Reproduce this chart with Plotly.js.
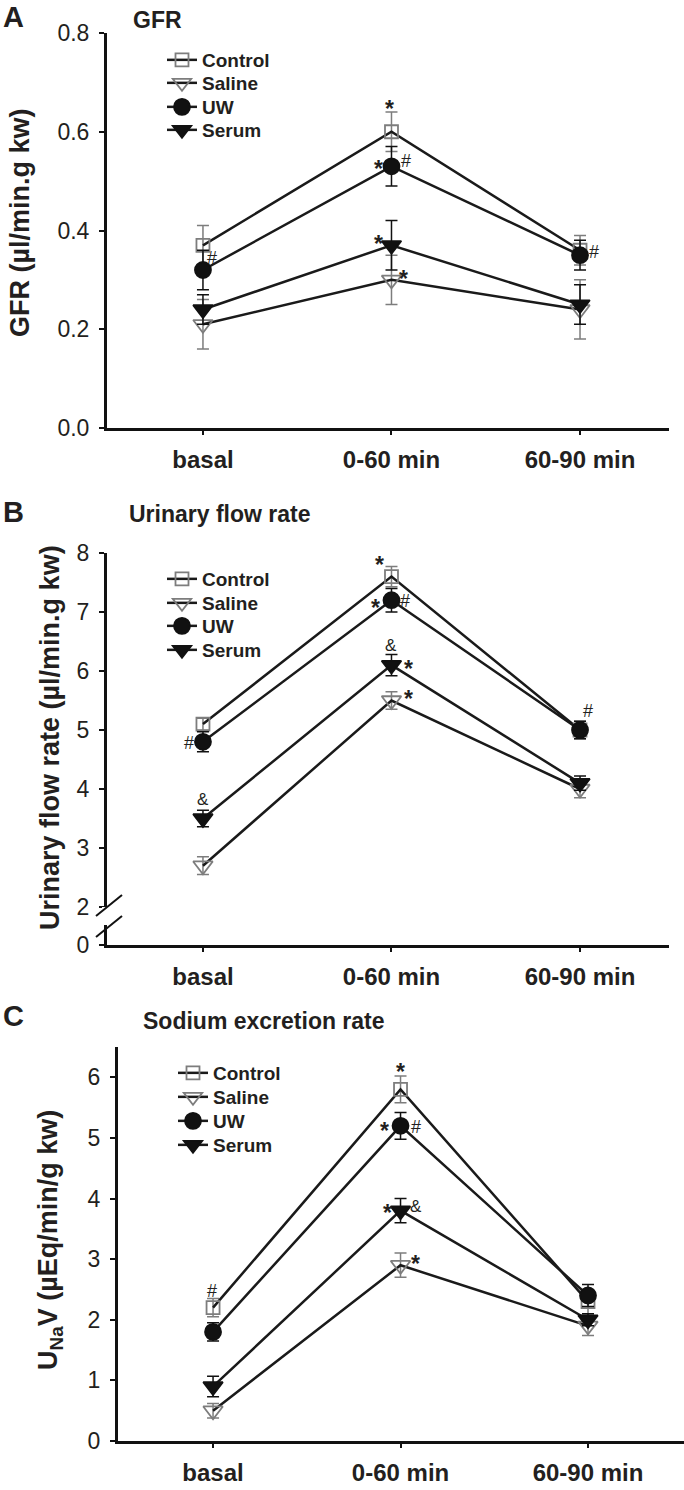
<!DOCTYPE html>
<html>
<head>
<meta charset="utf-8">
<script src="https://cdn.plot.ly/plotly-3.0.1.min.js"></script>
<style>html,body{margin:0;padding:0;background:#fff;}#chart{width:684px;height:1490px;}</style>
</head>
<body>
<div id="chart"></div>
<script>
// ---------- data ----------
const categories = ['basal', '0-60 min', '60-90 min'];
const seriesNames = ['Control', 'Saline', 'UW', 'Serum'];

// Panel A: GFR (µl/min.g kw)
const gfrControl = [0.37, 0.60, 0.36];
const gfrControlSE = [0.04, 0.04, 0.03];
const gfrSaline = [0.21, 0.30, 0.24];
const gfrSalineSE = [0.05, 0.05, 0.06];
const gfrUW = [0.32, 0.53, 0.35];
const gfrUWSE = [0.04, 0.04, 0.03];
const gfrSerum = [0.24, 0.37, 0.25];
const gfrSerumSE = [0.03, 0.05, 0.04];

// Panel B: Urinary flow rate (µl/min.g kw)
const flowControl = [5.1, 7.6, 5.0];
const flowControlSE = [0.10, 0.17, 0.15];
const flowSaline = [2.7, 5.5, 4.0];
const flowSalineSE = [0.15, 0.15, 0.15];
const flowUW = [4.8, 7.2, 5.0];
const flowUWSE = [0.17, 0.20, 0.15];
const flowSerum = [3.5, 6.1, 4.1];
const flowSerumSE = [0.14, 0.18, 0.12];

// Panel C: Sodium excretion rate (µEq/min/g kw)
const naControl = [2.2, 5.8, 2.3];
const naControlSE = [0.15, 0.22, 0.20];
const naSaline = [0.5, 2.9, 1.9];
const naSalineSE = [0.12, 0.20, 0.16];
const naUW = [1.8, 5.2, 2.4];
const naUWSE = [0.15, 0.22, 0.18];
const naSerum = [0.9, 3.8, 2.0];
const naSerumSE = [0.17, 0.20, 0.10];

// tick labels
const gfrTicks = [0, 0.2, 0.4, 0.6, 0.8];
const flowTicks = [2, 3, 4, 5, 6, 7, 8];
const naTicks = [0, 1, 2, 3, 4, 5, 6];

// significance marks: [series index, category index, text, xshift, yshift]
const gfrMarks = [
  [0, 1, '*', -2, 23], [2, 1, '*', -13, -3], [2, 1, '#', 15, 5], [2, 0, '#', 9, 12],
  [3, 1, '*', -13, 1], [1, 1, '*', 12, 1], [2, 2, '#', 14, 3]
];
const flowMarks = [
  [0, 1, '*', -12, 12], [2, 1, '*', -16, -8], [2, 1, '#', 14, -1], [3, 1, '&', 0, 20],
  [3, 1, '*', 17, -4], [1, 1, '*', 17, 2], [2, 0, '#', -14, -1], [3, 0, '&', 0, 19],
  [2, 2, '#', 8, 19]
];
const naMarks = [
  [0, 1, '*', 0, 17], [2, 1, '*', -16, -5], [2, 1, '#', 15, -1], [3, 1, '*', -13, -2],
  [3, 1, '&', 15, 4], [1, 1, '*', 15, 1], [0, 0, '#', -1, 17]
];

// ---------- styling ----------
const W = 684, H = 1490;
const FONT = 'Arial, "Liberation Sans", Helvetica, sans-serif';
const TXT = '#231f20';
const GRAY = '#7d7d7d';
const px = v => v / W;
const py = v => 1 - v / H;

const styles = [
  {symbol: 'square-open', size: 13, mcolor: GRAY, ecolor: GRAY},
  {symbol: 'triangle-down-open', size: 17, mcolor: GRAY, ecolor: GRAY},
  {symbol: 'circle', size: 16, mcolor: '#111', ecolor: '#111'},
  {symbol: 'triangle-down', size: 17, mcolor: '#111', ecolor: '#111'}
];

// legend rows (pixel centre of each entry) per panel
const legendRows = [
  {x: 162, ys: [60, 83, 107, 130]},
  {x: 162, ys: [579, 603, 626, 650]},
  {x: 173, ys: [1073, 1097, 1121, 1145]}
];

const panels = [
  {vals: [gfrControl, gfrSaline, gfrUW, gfrSerum], se: [gfrControlSE, gfrSalineSE, gfrUWSE, gfrSerumSE],
   marks: gfrMarks, xa: 'x', ya: 'y'},
  {vals: [flowControl, flowSaline, flowUW, flowSerum], se: [flowControlSE, flowSalineSE, flowUWSE, flowSerumSE],
   marks: flowMarks, xa: 'x2', ya: 'y2'},
  {vals: [naControl, naSaline, naUW, naSerum], se: [naControlSE, naSalineSE, naUWSE, naSerumSE],
   marks: naMarks, xa: 'x3', ya: 'y3'}
];

const traces = [];
const annotations = [];
const legends = {};
let k = 0;
panels.forEach((p, pi) => {
  seriesNames.forEach((name, i) => {
    const s = styles[i];
    const lid = k === 0 ? 'legend' : 'legend' + (k + 1);
    legends[lid] = {
      x: px(legendRows[pi].x), y: py(legendRows[pi].ys[i]), xanchor: 'left', yanchor: 'middle',
      bgcolor: 'rgba(0,0,0,0)', borderwidth: 0,
      font: {family: FONT, size: 19, color: TXT, weight: 'bold'}, itemclick: false, itemdoubleclick: false
    };
    traces.push({
      type: 'scatter', mode: 'lines+markers', name: name,
      x: categories, y: p.vals[i], xaxis: p.xa, yaxis: p.ya, legend: lid,
      line: {color: '#1a1a1a', width: 2.5},
      marker: {symbol: s.symbol, size: s.size, color: s.mcolor, line: {color: s.mcolor, width: 1.8}},
      error_y: {type: 'data', array: p.se[i], visible: true, color: s.ecolor, thickness: 1.5, width: 6},
      hoverinfo: 'skip'
    });
    k++;
  });
  p.marks.forEach(m => {
    const isStar = m[2] === '*';
    annotations.push({
      xref: p.xa, yref: p.ya, x: categories[m[1]], y: p.vals[m[0]][m[1]],
      text: m[2], showarrow: false, xanchor: 'center', yanchor: 'middle',
      xshift: m[3], yshift: m[4],
      font: {family: FONT, size: isStar ? 23 : (m[2] === '&' ? 17 : 18), color: TXT,
             weight: isStar ? 'bold' : 'normal'}
    });
  });
});

function label(text, x, y, size, opts) {
  return Object.assign({xref: 'paper', yref: 'paper', x: px(x), y: py(y), text: text, showarrow: false,
    xanchor: 'left', yanchor: 'middle', font: {family: FONT, size: size, color: TXT, weight: 'bold'}}, opts || {});
}
annotations.push(label('A', 1, 17, 29));
annotations.push(label('GFR', 131, 20, 23));
annotations.push(label('B', 1, 512, 29));
annotations.push(label('Urinary flow rate', 127, 514, 23));
annotations.push(label('C', 1, 1016, 29));
annotations.push(label('Sodium excretion rate', 141, 1021, 23));
annotations.push(label('GFR (µl/min.g kw)', 20, 223, 27, {xanchor: 'center', textangle: -90}));
annotations.push(label('Urinary flow rate (µl/min.g kw)', 50, 738, 27, {xanchor: 'center', textangle: -90}));
annotations.push(label('U<sub>Na</sub>V (µEq/min/g kw)', 50, 1240, 27, {xanchor: 'center', textangle: -90}));

function xaxis(domain, range, anchor) {
  return {domain: domain, range: range, anchor: anchor, type: 'category', showgrid: false, zeroline: false,
    showline: true, linecolor: '#111', linewidth: 3, ticks: 'outside', ticklen: 4, tickwidth: 2, tickcolor: '#111',
    tickfont: {family: FONT, size: 24, color: TXT, weight: 'bold'}, ticklabelstandoff: 4, fixedrange: true};
}
function yaxis(domain, range, anchor, tickvals, ticktext) {
  return {domain: domain, range: range, anchor: anchor, showgrid: false, zeroline: false,
    showline: true, linecolor: '#111', linewidth: 3, ticks: 'outside', ticklen: 5, tickwidth: 2, tickcolor: '#111',
    tickvals: tickvals, ticktext: ticktext, tickfont: {family: FONT, size: 23, color: TXT},
    ticklabelstandoff: 5, fixedrange: true};
}

// broken axis in panel B: the "0" tick sits just below the break
const flowZeroPos = 2 - 38 / 59;
const flowTickVals = [flowZeroPos].concat(flowTicks);
const flowTickText = ['0'].concat(flowTicks.map(String));

const layout = Object.assign({
  width: W, height: H, margin: {l: 0, r: 0, t: 0, b: 0}, paper_bgcolor: '#fff', plot_bgcolor: 'rgba(0,0,0,0)',
  showlegend: true,
  xaxis: xaxis([px(107), px(669)], [-0.509, 2.472], 'y'),
  yaxis: yaxis([py(428), py(33)], [0, 0.8], 'x', gfrTicks, gfrTicks.map(v => v.toFixed(1))),
  xaxis2: xaxis([px(107), px(669)], [-0.509, 2.472], 'y2'),
  yaxis2: yaxis([py(945), py(553)], [flowZeroPos, 8], 'x2', flowTickVals, flowTickText),
  xaxis3: xaxis([px(118), px(684)], [-0.507, 2.512], 'y3'),
  yaxis3: yaxis([py(1441), py(1047)], [0, 6.5], 'x3', naTicks, naTicks.map(String)),
  annotations: annotations,
  shapes: [
    {type: 'rect', xref: 'paper', yref: 'paper', x0: px(102), x1: px(113), y0: py(925), y1: py(907),
     fillcolor: '#fff', line: {width: 0}, layer: 'above'},
    {type: 'line', xref: 'paper', yref: 'paper', x0: px(96), y0: py(916), x1: px(122), y1: py(895),
     line: {color: '#111', width: 2}, layer: 'above'},
    {type: 'line', xref: 'paper', yref: 'paper', x0: px(96), y0: py(937), x1: px(122), y1: py(916),
     line: {color: '#111', width: 2}, layer: 'above'}
  ]
}, legends);

Plotly.newPlot('chart', traces, layout, {staticPlot: true, displayModeBar: false});
</script>
</body>
</html>
